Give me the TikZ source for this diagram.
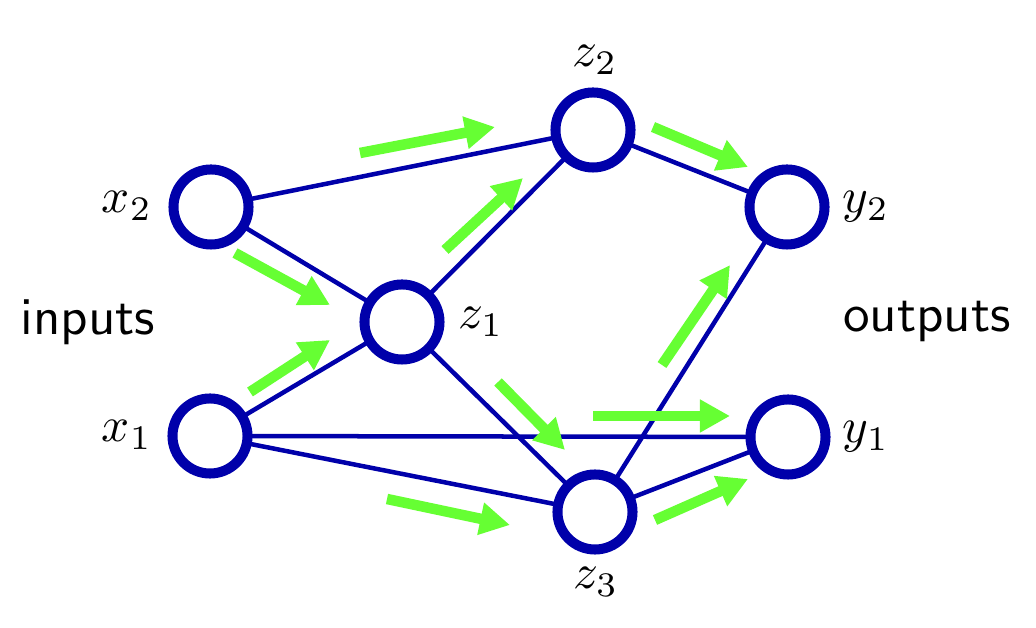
\documentclass[tikz,border=0pt]{standalone}
\usetikzlibrary{arrows.meta}
\definecolor{netblue}{RGB}{0,0,170}
\definecolor{flowgreen}{RGB}{102,255,51}
\begin{document}
\begin{tikzpicture}[x=0.01cm,y=-0.01cm,
  unit/.style={circle,draw=netblue,line width=0.1cm,minimum size=0.75cm,inner sep=0pt,fill=white},
  wire/.style={draw=netblue,line width=0.045cm},
  flow/.style={draw=flowgreen,line width=0.105cm,-{Triangle[length=0.3cm,width=0.31cm]}},
  lab/.style={scale=1.4,inner sep=0pt},
  word/.style={scale=1.51,font=\sffamily,inner sep=0pt}]
\useasboundingbox (0,0) rectangle (1036,628);
% wires first (nodes drawn later on top)
\coordinate (cx2) at (211,207);
\coordinate (cx1) at (210,436);
\coordinate (cz1) at (402,322);
\coordinate (cz2) at (593,130);
\coordinate (cz3) at (595,512);
\coordinate (cy2) at (787,207);
\coordinate (cy1) at (788,437);
\draw[wire] (cx2) -- (cz2);
\draw[wire] (cx2) -- (cz1);
\draw[wire] (cx1) -- (cz1);
\draw[wire] (cx1) -- (cy1);
\draw[wire] (cx1) -- (cz3);
\draw[wire] (cz1) -- (cz2);
\draw[wire] (cz1) -- (cz3);
\draw[wire] (cz2) -- (cy2);
\draw[wire] (cz3) -- (cy2);
\draw[wire] (cz3) -- (cy1);
% units
\node[unit] (x2) at (cx2) {};
\node[unit] (x1) at (cx1) {};
\node[unit] (z1) at (cz1) {};
\node[unit] (z2) at (cz2) {};
\node[unit] (z3) at (cz3) {};
\node[unit] (y2) at (cy2) {};
\node[unit] (y1) at (cy1) {};
% labels
\node[lab] (lx2) at (127,206) {$x_2$};
\node[lab] (lx1) at (127,435) {$x_1$};
\node[lab] (lz1) at (481,322) {$z_1$};
\node[lab] (lz2) at (595,60) {$z_2$};
\node[lab] (lz3) at (596,582) {$z_3$};
\node[lab] (ly2) at (866,207) {$y_2$};
\node[lab] (ly1) at (866,437) {$y_1$};
\node[word,anchor=base] (inp) at (88,335) {inputs};
\node[word,anchor=base] (outp) at (927,332) {outputs};
% flow arrows
\draw[flow] (360,153) -- (495,127);
\draw[flow] (235,253) -- (330,305);
\draw[flow] (250,392) -- (330,340);
\draw[flow] (445,250) -- (523,178);
\draw[flow] (498,382) -- (565,450);
\draw[flow] (387,499) -- (510,525);
\draw[flow] (593,416) -- (730,416);
\draw[flow] (653,127) -- (748,167);
\draw[flow] (662,365) -- (730,265);
\draw[flow] (655,520) -- (748,479);
\end{tikzpicture}
\end{document}
